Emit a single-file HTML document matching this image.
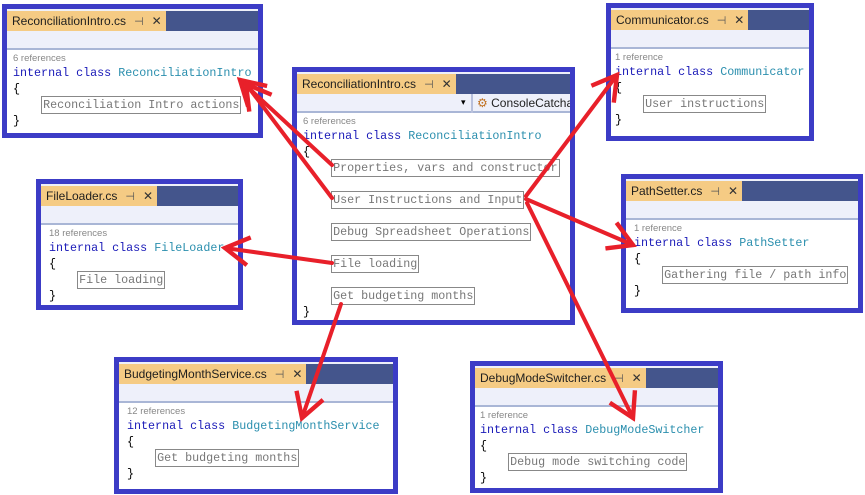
<!DOCTYPE html>
<html><head><meta charset="utf-8"><style>
*{margin:0;padding:0;box-sizing:border-box}
body{width:865px;height:495px;background:#fff;position:relative;overflow:hidden;font-family:"Liberation Sans",sans-serif}
.box{position:absolute;border:5px solid #3c3cc6;background:#fff;overflow:hidden}
.tabbar{height:22px;background:#44558c;border-top:2px solid #eef0f8;position:relative}
.tab{position:absolute;left:0;top:0;height:20px;background:#f5cb84;font-size:12px;color:#1e1e1e;line-height:20px;padding-left:5px;padding-right:4px;white-space:nowrap}
.tab .x{color:#555;margin-left:8px;font-size:11px}
.tab .cl{color:#333;margin-left:8px}
.tool{height:19px;background:#eef0fa;border-bottom:2px solid #a9b6d6;position:relative;font-size:12px;white-space:nowrap}
.code{position:relative;padding-left:6px;font-family:"Liberation Mono",monospace;font-size:11.7px;line-height:16px;white-space:pre;color:#000}
.ref{font-family:"Liberation Sans",sans-serif;font-size:9.5px;color:#888;line-height:12px;padding-top:3px}
.kw{color:#1a1ab8}.cn{color:#2b8fae}
.bx{border:1px solid #888;color:#777;padding:1px 1px}
</style></head><body>

<div class="box" style="left:2px;top:4px;width:261px;height:134px">
<div class="tabbar"><div class="tab">ReconciliationIntro.cs<span class="x">⊣</span><span class="cl">✕</span></div></div>
<div class="tool"></div>
<div class="code"><div class="ref">6 references</div><span class="kw">internal class</span> <span class="cn">ReconciliationIntro</span>
{
    <span class="bx">Reconciliation Intro actions</span>
}</div>
</div>

<div class="box" style="left:292px;top:67px;width:283px;height:258px">
<div class="tabbar"><div class="tab">ReconciliationIntro.cs<span class="x">⊣</span><span class="cl">✕</span></div></div>
<div class="tool"><span style="position:absolute;left:164px;top:3px;font-size:9px">▾</span><span style="position:absolute;left:174px;top:0;height:19px;border-left:2px solid #b8c0dc"></span><span style="position:absolute;left:180px;top:2px;color:#222"><span style="color:#c07020">⚙</span> ConsoleCatcha</span></div>
<div class="code"><div class="ref">6 references</div><span class="kw">internal class</span> <span class="cn">ReconciliationIntro</span>
{
    <span class="bx">Properties, vars and constructor</span>
    
    <span class="bx">User Instructions and Input</span>
    
    <span class="bx">Debug Spreadsheet Operations</span>
    
    <span class="bx">File loading</span>
    
    <span class="bx">Get budgeting months</span>
}</div>
</div>

<div class="box" style="left:606px;top:3px;width:208px;height:138px">
<div class="tabbar"><div class="tab">Communicator.cs<span class="x">⊣</span><span class="cl">✕</span></div></div>
<div class="tool"></div>
<div class="code" style="padding-left:4px"><div class="ref">1 reference</div><span class="kw">internal class</span> <span class="cn">Communicator</span>
{
    <span class="bx">User instructions</span>
}</div>
</div>

<div class="box" style="left:36px;top:179px;width:207px;height:131px">
<div class="tabbar"><div class="tab">FileLoader.cs<span class="x">⊣</span><span class="cl">✕</span></div></div>
<div class="tool"></div>
<div class="code" style="padding-left:8px"><div class="ref">18 references</div><span class="kw">internal class</span> <span class="cn">FileLoader</span>
{
    <span class="bx">File loading</span>
}</div>
</div>

<div class="box" style="left:621px;top:174px;width:242px;height:139px">
<div class="tabbar"><div class="tab">PathSetter.cs<span class="x">⊣</span><span class="cl">✕</span></div></div>
<div class="tool"></div>
<div class="code" style="padding-left:8px"><div class="ref">1 reference</div><span class="kw">internal class</span> <span class="cn">PathSetter</span>
{
    <span class="bx">Gathering file / path info</span>
}</div>
</div>

<div class="box" style="left:114px;top:357px;width:284px;height:137px">
<div class="tabbar"><div class="tab">BudgetingMonthService.cs<span class="x">⊣</span><span class="cl">✕</span></div></div>
<div class="tool"></div>
<div class="code" style="padding-left:8px"><div class="ref">12 references</div><span class="kw">internal class</span> <span class="cn">BudgetingMonthService</span>
{
    <span class="bx">Get budgeting months</span>
}</div>
</div>

<div class="box" style="left:470px;top:361px;width:253px;height:132px">
<div class="tabbar"><div class="tab">DebugModeSwitcher.cs<span class="x">⊣</span><span class="cl">✕</span></div></div>
<div class="tool"></div>
<div class="code" style="padding-left:5px"><div class="ref">1 reference</div><span class="kw">internal class</span> <span class="cn">DebugModeSwitcher</span>
{
    <span class="bx">Debug mode switching code</span>
}</div>
</div>

<svg width="865" height="495" style="position:absolute;left:0;top:0" viewBox="0 0 865 495">
<defs><marker id="a" markerWidth="8" markerHeight="8" refX="7" refY="4" orient="auto" markerUnits="strokeWidth"><path d="M1,0.5 L7,4 L1,7.5" fill="none" stroke="#e8202a" stroke-width="1.1"/></marker></defs>
<g stroke="#e8202a" stroke-width="4" fill="none" stroke-linecap="round" marker-end="url(#a)">
<line x1="332" y1="165" x2="240" y2="80"/>
<line x1="332" y1="198" x2="246" y2="84"/>
<line x1="526" y1="196" x2="617" y2="75"/>
<line x1="526" y1="199" x2="633" y2="245"/>
<line x1="527" y1="203" x2="633" y2="418"/>
<line x1="332" y1="263" x2="225" y2="248"/>
<line x1="341" y1="304" x2="302" y2="418"/>
</g>
</svg>
</body></html>
